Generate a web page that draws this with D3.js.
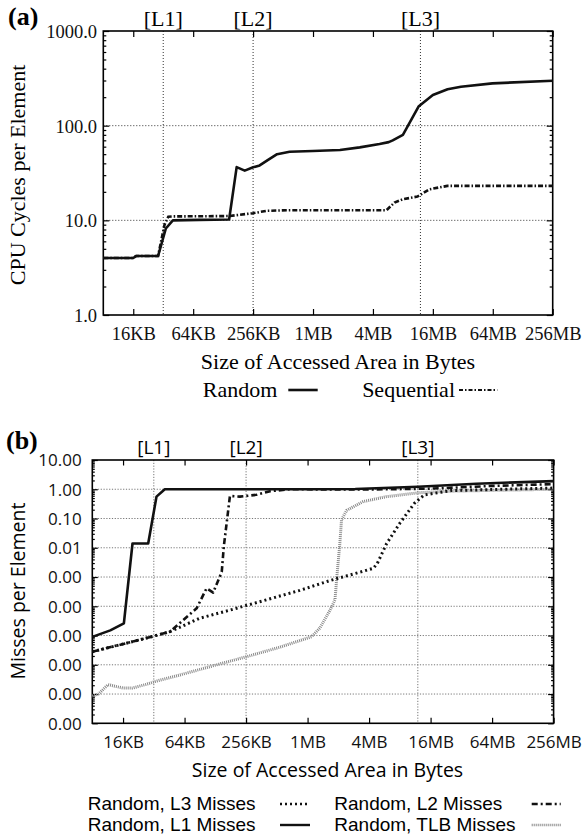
<!DOCTYPE html>
<html><head><meta charset="utf-8">
<script src="https://cdn.jsdelivr.net/npm/d3@7"></script>
<style>body{margin:0;background:#fff}svg{display:block}</style>
</head><body>
<svg id="c" width="583" height="839"></svg>
<script>
// ---------- shared axis data ----------
const xTickKB = [16, 64, 256, 1024, 4096, 16384, 65536, 262144];
const xTickLabels = ["16KB", "64KB", "256KB", "1MB", "4MB", "16MB", "64MB", "256MB"];
const cacheKB = [32, 256, 12288];
const cacheLabels = ["[L1]", "[L2]", "[L3]"];

// ---------- panel (a): CPU cycles per element ----------
const aRandomKB = [8, 11.3, 16, 17.1, 22.6, 28.4, 34, 40, 73.5, 147, 175, 211, 256, 298, 362, 446, 596, 1019, 1911, 3019, 4771, 5900, 6472, 8192, 11760, 16384, 23040, 31360, 65000, 262144];
const aRandomCycles = [4.0, 4.0, 4.0, 4.2, 4.2, 4.2, 8.2, 10.0, 10.1, 10.2, 36.5, 33.5, 36.3, 38.0, 43.5, 50, 53, 54, 55.3, 59, 64, 67, 70, 80, 159, 211, 242, 258, 280, 298];
const aSeqKB = [8, 16, 17.1, 28.4, 33, 36, 40, 147, 256, 350, 596, 5600, 6750, 8192, 11440, 15200, 22900, 262144];
const aSeqCycles = [4.0, 4.0, 4.2, 4.2, 9.0, 10.9, 11.0, 11.1, 11.9, 12.6, 12.8, 12.8, 15.4, 16.7, 17.8, 21.3, 23.1, 23.1];
const aYTicks = [1, 10, 100, 1000];
const aGridY = [10, 100];

// ---------- panel (b): misses per element ----------
const bL1KB = [8, 12, 16.3, 19.8, 28.2, 34, 41, 1024, 3000, 12288, 46000, 262144];
const bL1Miss = [9e-6, 1.5e-5, 2.6e-5, 0.014, 0.014, 0.56, 1.0, 1.0, 1.02, 1.22, 1.55, 1.9];
const bL2KB = [8, 25, 46, 84, 105, 122, 148, 155, 178, 223, 326, 440, 690, 4096, 16384, 65536, 262144];
const bL2Miss = [2.8e-6, 7.6e-6, 1.35e-5, 8.5e-5, 4.1e-4, 2.95e-4, 1.5e-3, 0.011, 0.59, 0.56, 0.65, 0.86, 1.0, 0.98, 1.05, 1.3, 1.5];
const bL3KB = [8, 25, 46, 90, 178, 861, 1700, 3410, 4520, 4940, 6090, 8190, 11360, 14200, 26000, 262144];
const bL3Miss = [2.8e-6, 7.6e-6, 1.35e-5, 3.9e-5, 7.4e-5, 3.5e-4, 7.6e-4, 1.5e-3, 2e-3, 2.95e-3, 0.014, 0.069, 0.33, 0.64, 0.9, 1.1];
const bTLBKB = [8, 9.2, 11.4, 16, 19.7, 26.4, 36.8, 57.7, 142, 260, 549, 1120, 1350, 1700, 1900, 1980, 2120, 2200, 2470, 3590, 6080, 12540, 26000, 262144];
const bTLBMiss = [8.5e-8, 1e-7, 2.1e-7, 1.6e-7, 1.6e-7, 2.1e-7, 3.0e-7, 4.5e-7, 1.07e-6, 1.9e-6, 4e-6, 9.1e-6, 1.8e-5, 7.4e-5, 1.66e-4, 1e-3, 0.014, 0.09, 0.19, 0.38, 0.56, 0.76, 0.86, 1.0];
const bYTicks = [10, 1, 0.1, 0.01, 1e-3, 1e-4, 1e-5, 1e-6, 1e-7, 1e-8];
const bGridY = [1, 0.1, 0.01, 1e-3, 1e-4, 1e-5, 1e-6, 1e-7];

const svg = d3.select("#c");
const serif = "'Liberation Serif','Times New Roman',serif";
const sans = "'Open Sans','Noto Sans',sans-serif";
const legSans = "'Liberation Sans',Arial,sans-serif";

function minorTicks(lo, hi) {
  const out = [];
  for (let e = Math.round(Math.log10(lo)); e < Math.round(Math.log10(hi)); e++)
    for (let k = 2; k <= 9; k++) out.push(k * Math.pow(10, e));
  return out;
}

function panel(cfg) {
  const {L, R, T, B, yDomain, yTicks, yFmt, gridY, tickFont, tickFs, yPad, xLabY, gridColor, gridDash, majorLen, minorLen} = cfg;
  const x = d3.scaleLog().base(2).domain([8, 262144]).range([L, R]);
  const y = d3.scaleLog().domain(yDomain).range([B, T]);
  const g = svg.append("g");

  // grid
  g.selectAll(null).data(gridY).join("line")
    .attr("x1", L).attr("x2", R).attr("y1", d => y(d)).attr("y2", d => y(d))
    .attr("stroke", gridColor).attr("stroke-width", 1).attr("stroke-dasharray", gridDash);
  g.selectAll(null).data(cacheKB).join("line")
    .attr("x1", d => x(d)).attr("x2", d => x(d)).attr("y1", T).attr("y2", B)
    .attr("stroke", gridColor).attr("stroke-width", 1).attr("stroke-dasharray", gridDash);

  // bottom axis
  const gb = g.append("g").attr("transform", `translate(0,${B})`)
    .call(d3.axisBottom(x).tickValues(xTickKB).tickFormat((d, i) => xTickLabels[i]).tickSize(-majorLen).tickPadding(0));
  gb.select(".domain").remove();
  gb.selectAll("text").attr("y", xLabY).attr("dy", null)
    .style("font-family", tickFont).style("font-size", tickFs + "px").attr("fill", "#111");
  const gt = g.append("g").attr("transform", `translate(0,${T})`)
    .call(d3.axisTop(x).tickValues(xTickKB).tickFormat("").tickSize(-majorLen));
  gt.select(".domain").remove();

  // left axis
  const gl = g.append("g").attr("transform", `translate(${L},0)`)
    .call(d3.axisLeft(y).tickValues(yTicks).tickFormat(yFmt).tickSize(-majorLen).tickPadding(yPad));
  gl.select(".domain").remove();
  gl.selectAll("text").attr("dy", "0.35em")
    .style("font-family", tickFont).style("font-size", tickFs + "px").attr("fill", "#111");
  const glm = g.append("g").attr("transform", `translate(${L},0)`)
    .call(d3.axisLeft(y).tickValues(minorTicks(yDomain[0], yDomain[1])).tickFormat("").tickSize(-minorLen));
  glm.select(".domain").remove();
  const gr = g.append("g").attr("transform", `translate(${R},0)`)
    .call(d3.axisRight(y).tickValues(yTicks).tickFormat("").tickSize(-majorLen));
  gr.select(".domain").remove();
  const grm = g.append("g").attr("transform", `translate(${R},0)`)
    .call(d3.axisRight(y).tickValues(minorTicks(yDomain[0], yDomain[1])).tickFormat("").tickSize(-minorLen));
  grm.select(".domain").remove();
  g.selectAll(".tick line").attr("stroke", "#000").attr("stroke-width", 1.2);

  // frame
  g.append("rect").attr("x", L).attr("y", T).attr("width", R - L).attr("height", B - T)
    .attr("fill", "none").attr("stroke", "#000").attr("stroke-width", 1.6);

  return {x, y, g};
}

// ===== Panel (a) =====
const pa = panel({L: 103.3, R: 552.7, T: 31, B: 315, yDomain: [1, 1000], yTicks: aYTicks,
  yFmt: d3.format(".1f"), gridY: aGridY, tickFont: serif, tickFs: 18.5, yPad: 6.3, xLabY: 24.5,
  gridColor: "#333", gridDash: "1,2", majorLen: 6, minorLen: 3});

const lineA = d3.line().x(d => pa.x(d[0])).y(d => pa.y(d[1]));
pa.g.append("path").datum(d3.zip(aSeqKB, aSeqCycles)).attr("d", lineA)
  .attr("fill", "none").attr("stroke", "#111").attr("stroke-width", 2.6)
  .attr("stroke-dasharray", "5,2,1.5,2");
pa.g.append("path").datum(d3.zip(aRandomKB, aRandomCycles)).attr("d", lineA)
  .attr("fill", "none").attr("stroke", "#111").attr("stroke-width", 2.6).attr("stroke-linejoin", "round");

svg.selectAll(null).data(cacheKB).join("text")
  .attr("x", d => pa.x(d)).attr("y", 25.5).attr("text-anchor", "middle")
  .style("font-family", serif).style("font-size", "22px").text((d, i) => cacheLabels[i]);
svg.append("text").attr("x", 8).attr("y", 25).style("font-family", serif).style("font-size", "26px")
  .style("font-weight", "bold").text("(a)");
svg.append("text").attr("transform", "translate(25,175) rotate(-90)").attr("text-anchor", "middle")
  .style("font-family", serif).style("font-size", "22px").text("CPU Cycles per Element");
svg.append("text").attr("x", 338).attr("y", 369).attr("text-anchor", "middle")
  .style("font-family", serif).style("font-size", "22px").text("Size of Accessed Area in Bytes");
// legend (a)
svg.append("text").attr("x", 277.3).attr("y", 397.3).attr("text-anchor", "end")
  .style("font-family", serif).style("font-size", "22px").text("Random");
svg.append("line").attr("x1", 288.3).attr("x2", 317.7).attr("y1", 390).attr("y2", 390)
  .attr("stroke", "#111").attr("stroke-width", 2.6);
svg.append("text").attr("x", 455).attr("y", 397.3).attr("text-anchor", "end")
  .style("font-family", serif).style("font-size", "22px").text("Sequential");
svg.append("line").attr("x1", 459).attr("x2", 497.3).attr("y1", 390).attr("y2", 390)
  .attr("stroke", "#111").attr("stroke-width", 2.2).attr("stroke-dasharray", "4,2,1.5,2");

// ===== Panel (b) =====
const pb = panel({L: 92.3, R: 553.6, T: 460, B: 723.3, yDomain: [1e-8, 10], yTicks: bYTicks,
  yFmt: d3.format(".2f"), gridY: bGridY, tickFont: sans, tickFs: 17, yPad: 10.6, xLabY: 25,
  gridColor: "#777", gridDash: "1.2,1.6", majorLen: 5.5, minorLen: 2.5});

const lineB = d3.line().x(d => pb.x(d[0])).y(d => pb.y(d[1]));
const styles = {
  tlb: {stroke: "#888", width: 3, dash: "1,1"},
  l3: {stroke: "#111", width: 3, dash: "2,3"},
  l2: {stroke: "#111", width: 2.6, dash: "6,3,2,3"},
  l1: {stroke: "#111", width: 2.6, dash: null}
};
function drawB(sizes, vals, st) {
  pb.g.append("path").datum(d3.zip(sizes, vals)).attr("d", lineB)
    .attr("fill", "none").attr("stroke", st.stroke).attr("stroke-width", st.width)
    .attr("stroke-dasharray", st.dash).attr("stroke-linejoin", "round");
}
drawB(bTLBKB, bTLBMiss, styles.tlb);
drawB(bL3KB, bL3Miss, styles.l3);
drawB(bL2KB, bL2Miss, styles.l2);
drawB(bL1KB, bL1Miss, styles.l1);

svg.selectAll(null).data(cacheKB).join("text")
  .attr("x", d => pb.x(d)).attr("y", 453.5).attr("text-anchor", "middle")
  .style("font-family", sans).style("font-size", "19px").text((d, i) => cacheLabels[i]);
svg.append("text").attr("x", 6).attr("y", 449).style("font-family", serif).style("font-size", "26px")
  .style("font-weight", "bold").text("(b)");
svg.append("text").attr("transform", "translate(25,591) rotate(-90)").attr("text-anchor", "middle")
  .style("font-family", sans).style("font-size", "19.5px").text("Misses per Element");
svg.append("text").attr("x", 327.5).attr("y", 777).attr("text-anchor", "middle")
  .style("font-family", sans).style("font-size", "19.5px").text("Size of Accessed Area in Bytes");

// legend (b)
const legB = [
  {label: "Random, L3 Misses", tx: 87.7, ty: 809.8, sx1: 280, sx2: 307, sy: 804, st: styles.l3},
  {label: "Random, L2 Misses", tx: 334.3, ty: 809.8, sx1: 531.7, sx2: 560.7, sy: 804, st: styles.l2},
  {label: "Random, L1 Misses", tx: 87.7, ty: 831.2, sx1: 280, sx2: 310, sy: 825, st: styles.l1},
  {label: "Random, TLB Misses", tx: 334.3, ty: 831.2, sx1: 531.7, sx2: 560.7, sy: 825, st: styles.tlb}
];
legB.forEach(d => {
  svg.append("text").attr("x", d.tx).attr("y", d.ty)
    .style("font-family", legSans).style("font-size", "19px").text(d.label);
  svg.append("line").attr("x1", d.sx1).attr("x2", d.sx2).attr("y1", d.sy).attr("y2", d.sy)
    .attr("stroke", d.st.stroke).attr("stroke-width", 2.4)
    .attr("stroke-dasharray", d.st.dash);
});
</script>
</body></html>
